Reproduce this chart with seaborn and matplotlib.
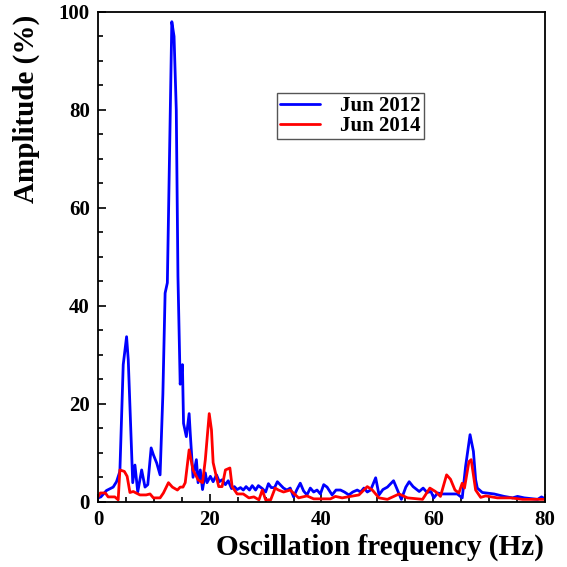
import numpy as np
import pandas as pd
import matplotlib
matplotlib.use("Agg")
import matplotlib.pyplot as plt
from matplotlib.ticker import MultipleLocator
import seaborn as sns

# Jun 2012 spectrum (frequency in Hz, amplitude in %)
f_2012 = [0.0, 0.5, 1.5, 2.7, 3.3, 3.9, 4.5, 5.1, 5.4, 6.2, 6.6, 7.1, 7.8, 8.4, 8.9,
          9.5, 9.9, 10.5, 11.1, 11.6, 12.0, 12.4, 13.2, 13.6, 14.0, 14.3, 14.7, 15.1,
          15.3, 15.8, 16.3, 16.5, 17.0, 17.6, 17.9, 18.3, 18.7, 19.2, 19.5, 20.1, 20.6,
          21.2, 21.7, 22.2, 22.8, 23.3, 23.9, 24.4, 24.9, 25.5, 26.0, 26.5, 27.1, 27.6,
          28.2, 28.7, 29.4, 30.0, 30.5, 31.0, 31.6, 32.1, 32.6, 33.2, 33.8, 34.4, 35.0,
          35.6, 36.2, 36.8, 37.4, 38.0, 38.6, 39.2, 39.8, 40.4, 41.0, 41.9, 42.6, 43.4,
          44.1, 44.9, 45.6, 46.4, 47.0, 47.6, 48.2, 48.8, 49.7, 50.3, 51.0, 51.8, 52.9,
          53.6, 54.3, 55.1, 55.7, 56.4, 57.5, 58.2, 58.9, 59.6, 60.1, 60.8, 61.6, 62.5,
          63.4, 64.3, 65.2, 65.8, 66.6, 67.2, 67.6, 67.9, 68.8, 70.9, 72.7, 74.2, 75.1,
          76.3, 78.7, 79.4, 80.0]
amp_2012 = [0.8, 1.0, 2.3, 3.0, 4.1, 6.2, 28.0, 33.7, 29.0, 3.9, 7.5, 2.0, 6.5, 3.0, 3.5,
            11.0, 9.6, 7.9, 5.5, 22.0, 42.6, 44.7, 98.0, 95.0, 80.0, 46.0, 24.0, 28.0,
            16.0, 13.3, 18.0, 14.0, 5.0, 8.6, 3.9, 6.5, 2.5, 5.9, 3.9, 5.2, 4.1,
            5.5, 4.1, 4.5, 3.5, 4.3, 2.7, 3.1, 2.5, 2.9, 2.4, 3.1, 2.4, 3.3,
            2.4, 3.3, 2.7, 2.0, 3.7, 2.9, 2.9, 4.1, 3.5, 2.8, 2.4, 2.8, 1.0,
            2.5, 3.8, 2.2, 1.4, 2.8, 2.0, 2.4, 1.6, 3.5, 3.0, 1.4, 2.4, 2.4,
            2.0, 1.4, 2.0, 2.4, 2.0, 2.8, 2.0, 2.4, 4.9, 1.4, 2.5, 3.0, 4.3,
            2.4, 0.5, 3.0, 4.1, 3.1, 2.1, 2.8, 1.9, 2.1, 0.8, 1.8, 1.6, 1.6,
            1.6, 1.6, 0.8, 7.2, 13.7, 10.3, 4.5, 2.8, 1.9, 1.6, 1.1, 0.8, 1.1,
            0.8, 0.5, 1.0, 0.6]

# Jun 2014 spectrum
f_2014 = [0.0, 0.4, 1.3, 1.8, 3.0, 3.6, 3.9, 4.7, 5.2, 5.7, 6.3, 6.8, 7.5, 8.6, 9.3,
          9.9, 11.1, 11.7, 12.6, 13.3, 14.2, 14.7, 15.2, 15.6, 16.3, 17.0, 17.9, 18.7,
          19.2, 19.6, 19.9, 20.3, 20.6, 21.2, 21.6, 22.2, 22.8, 23.6, 24.0, 24.9, 26.0,
          27.0, 27.9, 28.8, 29.4, 30.0, 30.9, 31.7, 32.3, 33.2, 34.4, 35.9, 37.4, 38.6,
          41.6, 42.5, 43.7, 45.2, 46.7, 48.2, 49.1, 50.3, 51.8, 53.9, 55.4, 58.1, 59.4,
          60.4, 61.3, 62.4, 63.1, 63.9, 64.6, 65.2, 65.6, 66.4, 66.8, 67.6, 68.5, 69.4,
          71.5, 73.9, 76.0, 80.0]
amp_2014 = [1.0, 1.8, 1.8, 1.0, 1.0, 0.4, 6.5, 6.2, 5.2, 1.9, 2.1, 1.8, 1.4, 1.4, 1.6,
            0.8, 0.8, 1.8, 3.9, 3.0, 2.4, 3.0, 3.0, 3.9, 10.6, 6.5, 4.5, 3.9,
            8.6, 14.0, 18.0, 14.7, 8.0, 5.0, 3.1, 3.1, 6.5, 6.9, 3.1, 1.6, 1.6,
            0.8, 1.0, 0.4, 2.4, 0.4, 0.4, 2.8, 2.4, 2.0, 2.4, 0.8, 1.2, 0.6,
            0.6, 1.1, 0.8, 1.1, 1.4, 3.1, 2.4, 0.8, 0.5, 1.6, 0.8, 0.5, 2.8,
            2.1, 1.1, 5.5, 4.6, 2.4, 1.8, 3.8, 2.8, 8.2, 8.6, 2.4, 0.9, 1.2,
            0.8, 0.8, 0.5, 0.5]

df = pd.concat([
    pd.DataFrame({"freq": f_2012, "amp": amp_2012, "series": "Jun 2012"}),
    pd.DataFrame({"freq": f_2014, "amp": amp_2014, "series": "Jun 2014"}),
])

sns.set_style("ticks")
plt.rcParams["font.family"] = ["Liberation Serif", "DejaVu Serif"]
plt.rcParams["font.weight"] = "bold"
plt.rcParams["text.color"] = "black"
plt.rcParams["axes.labelcolor"] = "black"
plt.rcParams["xtick.color"] = "black"
plt.rcParams["ytick.color"] = "black"

fig = plt.figure(figsize=(5.67, 5.67), dpi=100)
ax = fig.add_axes([0.173, 0.115, 0.788, 0.864])

sns.lineplot(data=df, x="freq", y="amp", hue="series", sort=False,
             palette={"Jun 2012": "#0000ff", "Jun 2014": "#ff0000"},
             linewidth=2, ax=ax, estimator=None)

ax.set_xlim(0, 80)
ax.set_ylim(0, 100)
ax.xaxis.set_major_locator(MultipleLocator(20))
ax.xaxis.set_minor_locator(MultipleLocator(5))
ax.yaxis.set_major_locator(MultipleLocator(20))
ax.yaxis.set_minor_locator(MultipleLocator(5))
ax.tick_params(which="both", direction="in", top=False, right=False, width=1.2,
               labelsize=15, pad=6, colors="black")
ax.tick_params(which="major", length=6)
ax.tick_params(which="minor", length=3.5)
for lbl in ax.get_xticklabels() + ax.get_yticklabels():
    lbl.set_fontweight("bold")
    lbl.set_color("black")
for sp in ax.spines.values():
    sp.set_visible(True)
    sp.set_color("black")
    sp.set_linewidth(1.3)

ax.set_xlabel("Oscillation frequency (Hz)", fontsize=21, fontweight="bold",
              color="black")
ax.xaxis.set_label_coords(0.998, -0.065, transform=ax.transAxes)
ax.xaxis.label.set_horizontalalignment("right")
ax.set_ylabel("Amplitude (%)", fontsize=21, fontweight="bold", color="black")
ax.yaxis.set_label_coords(-0.16, 0.995, transform=ax.transAxes)
ax.yaxis.label.set_verticalalignment("center")
ax.yaxis.label.set_horizontalalignment("right")

leg = ax.legend(loc="upper left", bbox_to_anchor=(0.40, 0.835), frameon=True,
                fancybox=False, framealpha=1, edgecolor="#555555",
                prop={"size": 15, "weight": "bold"}, handlelength=1.9,
                borderpad=0.15, labelspacing=0.0, handletextpad=1.0,
                borderaxespad=0)
leg.get_frame().set_linewidth(1.0)

fig.savefig("out.png", dpi=100)
